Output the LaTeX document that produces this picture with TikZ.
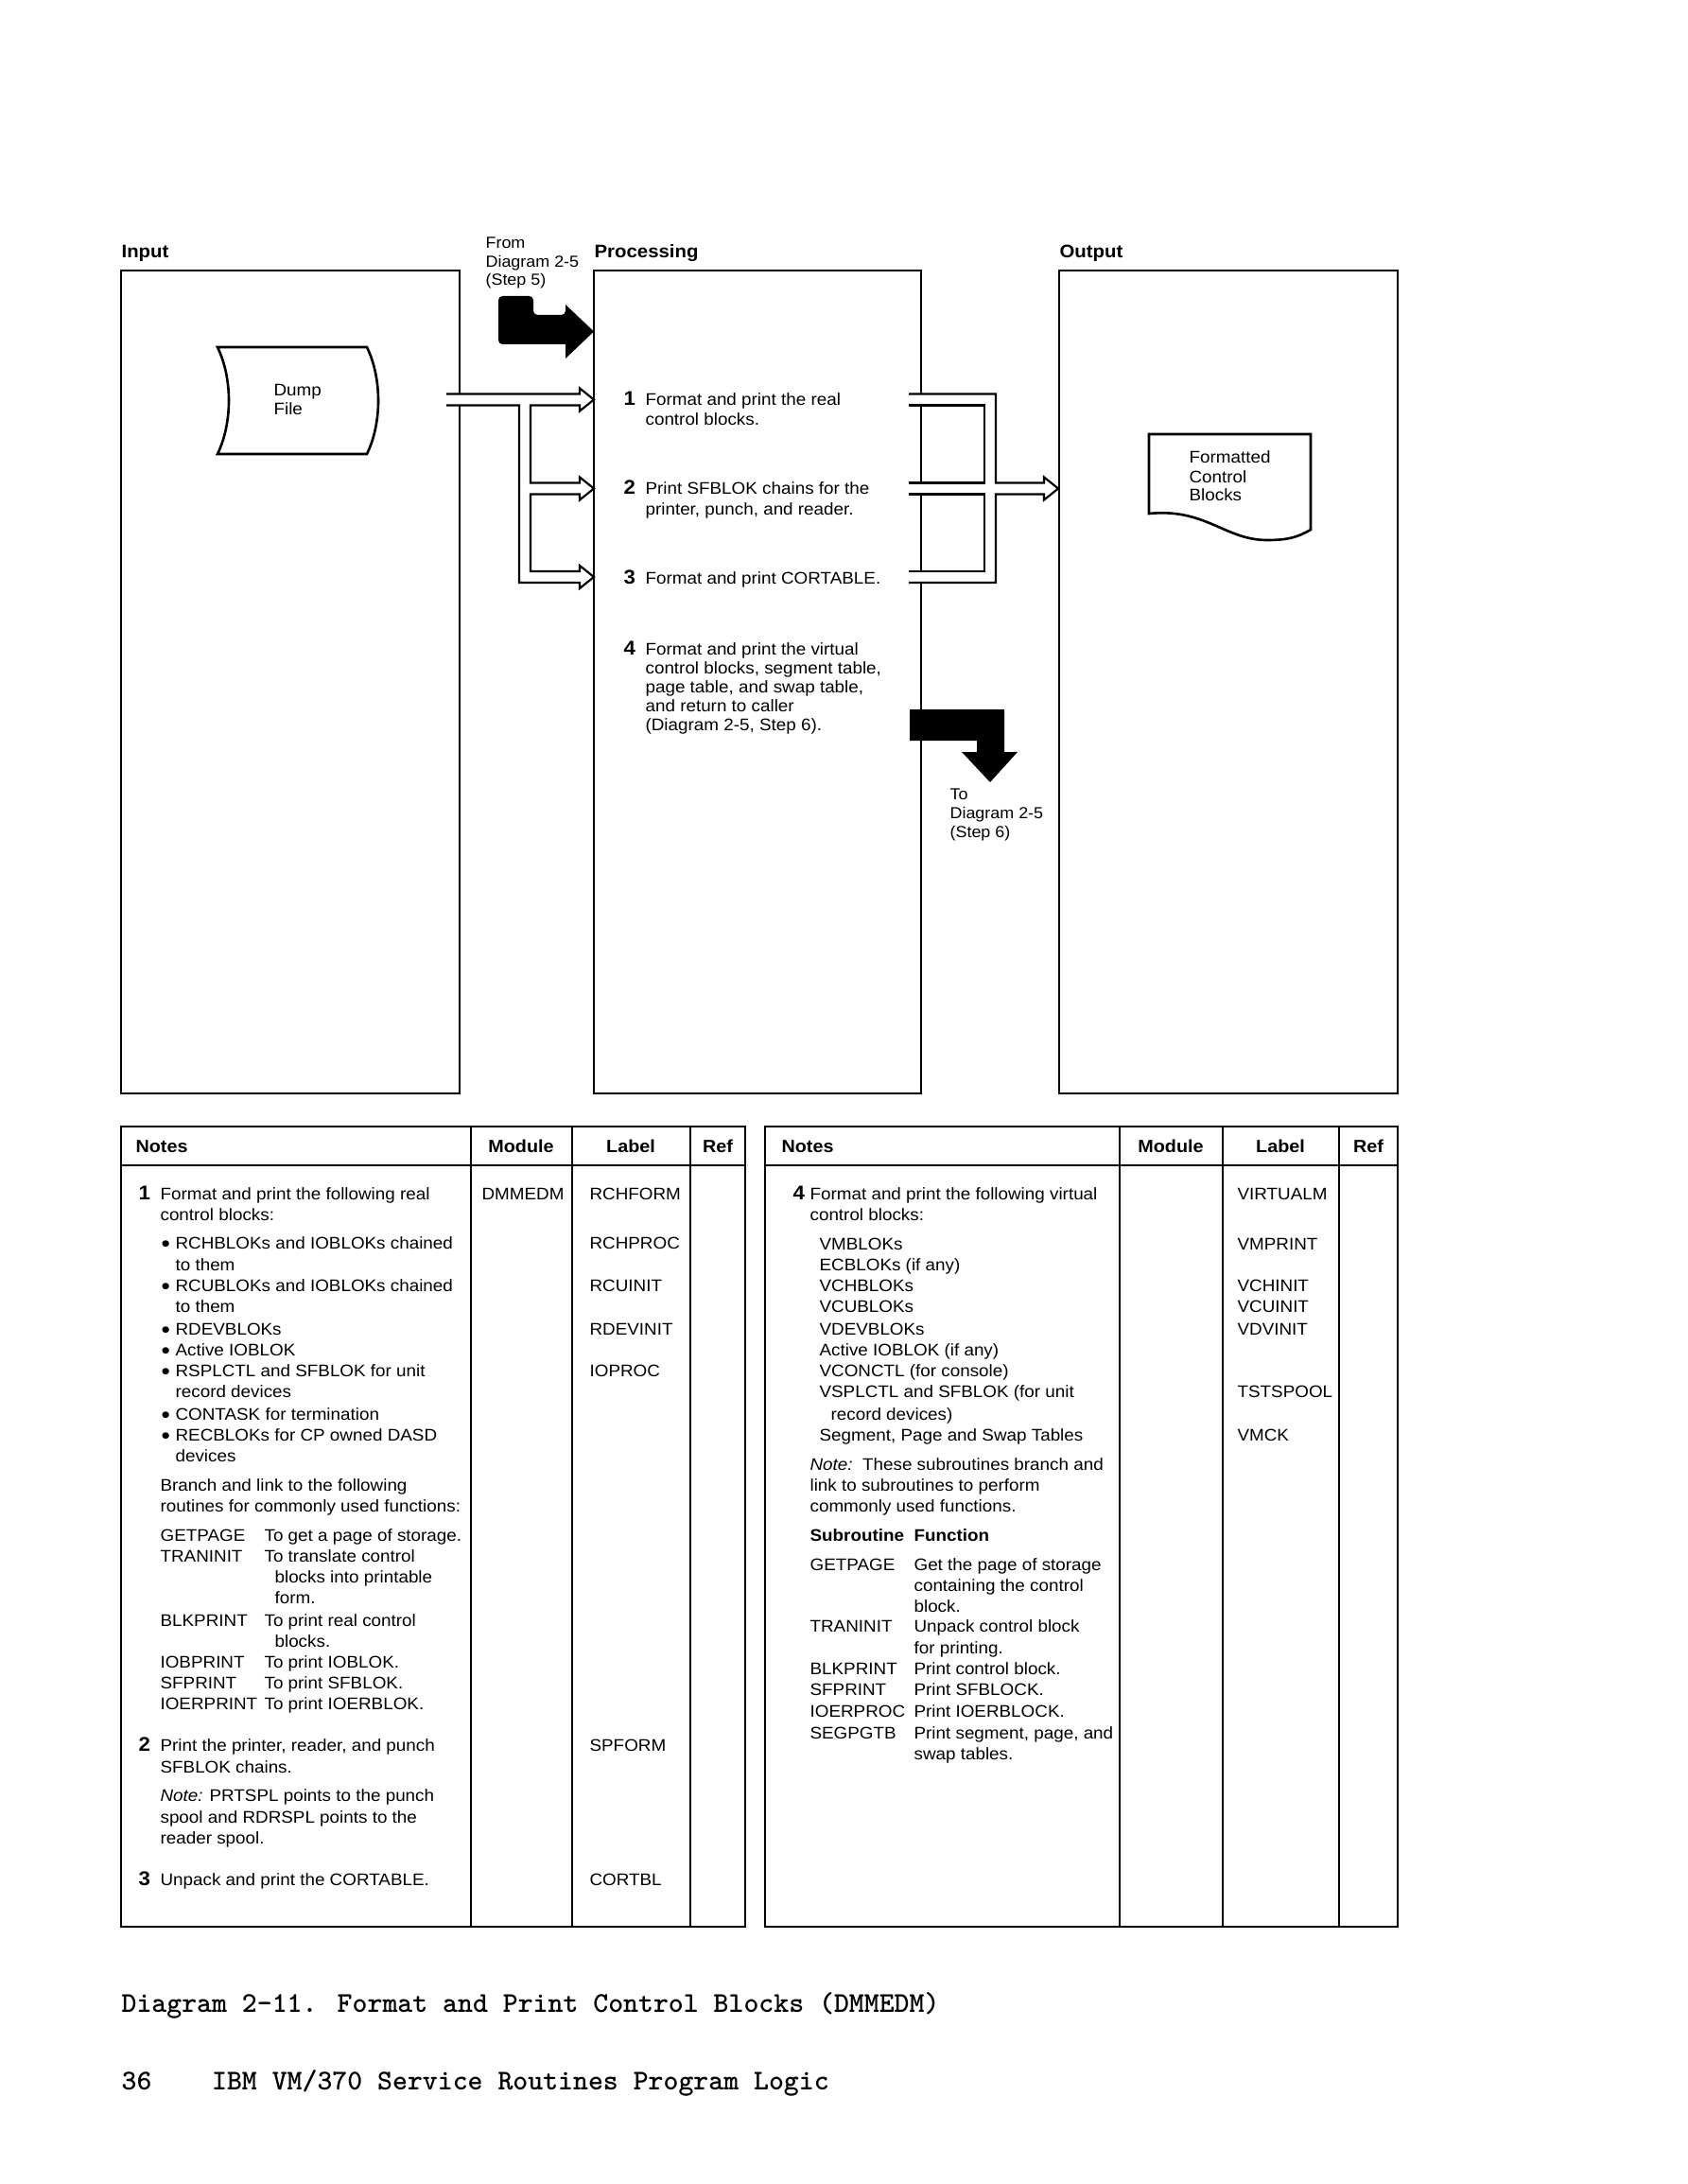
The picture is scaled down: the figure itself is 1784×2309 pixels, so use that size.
\documentclass[tikz,border=0pt]{standalone}
\usepackage{fontspec}
\setmainfont{Liberation Sans}[FakeStretch=1.06]
\newcommand\TL[4]{\node[txt] (#1) at (#2,#3) {#4};}
\newcommand\NM[4]{\node[num] (#1) at (#2,#3) {#4};}
\newcommand\BL[3]{\node[bul] (#1b) at (170,#2+3.5) {\textbullet};\node[txt] (#1) at (185,#2) {#3};}
\begin{document}
\begin{tikzpicture}[x=0.343pt,y=-0.343pt,
  box/.style={line width=0.9pt},
  pipe/.style={line width=0.75pt, line join=miter},
  txt/.style={inner sep=0pt, anchor=base west, font=\fontsize{6.1}{7}\selectfont},
  bul/.style={inner sep=0pt, anchor=base west, font=\fontsize{8.6}{8}\selectfont},
  smalltxt/.style={inner sep=0pt, anchor=base west, font=\fontsize{5.8}{7}\selectfont},
  num/.style={inner sep=0pt, anchor=base west, font=\fontsize{7.2}{8}\selectfont\bfseries},
  hdr/.style={inner sep=0pt, anchor=base, font=\fontsize{6.4}{8}\selectfont\bfseries},
  ttl/.style={inner sep=0pt, anchor=base west, font=\fontsize{6.6}{8}\selectfont\bfseries},
  captxt/.style={inner sep=0pt, anchor=base west, font=\fontsize{10.4}{12}\selectfont\ttfamily\bfseries}]
\useasboundingbox (0,0) rectangle (1784,2309);
\fill[white] (0,0) rectangle (1784,2309);

% ---------- column titles ----------
\node[ttl] (tin) at (128,273) {Input};
\node[ttl] (tproc) at (628,273) {Processing};
\node[ttl] (tout) at (1120,273) {Output};
\node[smalltxt] (from1) at (513,263) {From};
\node[smalltxt] (from2) at (513,283) {Diagram 2-5};
\node[smalltxt] (from3) at (513,302) {(Step 5)};

% ---------- three boxes ----------
\draw[box] (128,286) rectangle (486,1156);
\draw[box] (628,286) rectangle (974,1156);
\draw[box] (1120,286) rectangle (1478,1156);
\coordinate (inbox) at (307,721);
\coordinate (procbox) at (801,721);
\coordinate (outbox) at (1299,721);

% ---------- dump file ----------
\draw[box] (230,367) -- (388,367) .. controls (404,400) and (404,447) .. (388,480)
  -- (230,480) .. controls (246,447) and (246,400) .. (230,367) -- cycle;
\TL{dump1}{289}{419}{Dump}
\TL{dump2}{289}{439}{File}

% ---------- formatted control blocks (document) ----------
\draw[box] (1215,543) -- (1215,459) -- (1386,459) -- (1386,560)
  .. controls (1372,568) and (1362,571) .. (1340,571)
  .. controls (1295,571) and (1275,537) .. (1215,543) -- cycle;
\TL{fcb1}{1257}{489}{Formatted}
\TL{fcb2}{1257}{510}{Control}
\TL{fcb3}{1257}{530}{Blocks}

% ---------- left pipes (input -> steps 1,2,3) ----------
\fill[white] (472,416.5) -- (613,416.5) -- (613,410.5) -- (628,422.5) -- (613,434.5) -- (613,428.5)
  -- (561,428.5) -- (561,510.5) -- (613,510.5) -- (613,504.5) -- (628,516.5) -- (613,528.5) -- (613,522.5)
  -- (561,522.5) -- (561,604) -- (613,604) -- (613,598) -- (628,610) -- (613,622) -- (613,616)
  -- (549,616) -- (549,428.5) -- (472,428.5) -- cycle;
\draw[pipe] (472,416.5) -- (613,416.5) -- (613,410.5) -- (628,422.5) -- (613,434.5) -- (613,428.5)
  -- (561,428.5) -- (561,510.5) -- (613,510.5) -- (613,504.5) -- (628,516.5) -- (613,528.5) -- (613,522.5)
  -- (561,522.5) -- (561,604) -- (613,604) -- (613,598) -- (628,610) -- (613,622) -- (613,616)
  -- (549,616) -- (549,428.5) -- (472,428.5);

% ---------- right pipes (steps 1,2,3 -> output) ----------
\fill[white] (961,416.5) -- (1053,416.5) -- (1053,510.5) -- (1104,510.5) -- (1104,504.5) -- (1119,516.5)
  -- (1104,528.5) -- (1104,522.5) -- (1053,522.5) -- (1053,616) -- (961,616) -- (961,604) -- (1041,604)
  -- (1041,522.5) -- (961,522.5) -- (961,510.5) -- (1041,510.5) -- (1041,428.5) -- (961,428.5) -- cycle;
\draw[pipe] (961,416.5) -- (1053,416.5) -- (1053,510.5) -- (1104,510.5) -- (1104,504.5) -- (1119,516.5)
  -- (1104,528.5) -- (1104,522.5) -- (1053,522.5) -- (1053,616) -- (961,616);
\draw[pipe] (961,428.5) -- (1041,428.5) -- (1041,510.5) -- (961,510.5);
\draw[pipe] (961,522.5) -- (1041,522.5) -- (1041,604) -- (961,604);

% ---------- black arrows ----------
\fill[rounded corners=1.5pt] (527,313) -- (564,313) -- (564,333) -- (598,333) [sharp corners] -- (598,322) -- (628,350.5) -- (598,379)
  -- (598,364) [rounded corners=1.5pt] -- (527,364) -- cycle;
\fill (962,750) -- (1062,750) -- (1062,795) -- (1076,795) -- (1047,827) -- (1017,795)
  -- (1033,795) -- (1033,783) -- (962,783) -- cycle;
\node[smalltxt] (to1) at (1004,845) {To};
\node[smalltxt] (to2) at (1004,865) {Diagram 2-5};
\node[smalltxt] (to3) at (1004,885) {(Step 6)};

% ---------- processing steps ----------
\NM{s1n}{659}{429}{1}
\TL{s1a}{682}{429}{Format and print the real}
\TL{s1b}{682}{450}{control blocks.}
\NM{s2n}{659}{523}{2}
\TL{s2a}{682}{523}{Print SFBLOK chains for the}
\TL{s2b}{682}{545}{printer, punch, and reader.}
\NM{s3n}{659}{617}{3}
\TL{s3a}{682}{617}{Format and print CORTABLE.}
\NM{s4n}{659}{692}{4}
\TL{s4a}{682}{692}{Format and print the virtual}
\TL{s4b}{682}{712}{control blocks, segment table,}
\TL{s4c}{682}{732}{page table, and swap table,}
\TL{s4d}{682}{752}{and return to caller}
\TL{s4e}{682}{772}{(Diagram 2-5, Step 6).}

% ---------- left table ----------
\draw[box] (128,1191) rectangle (788,2037);
\draw[box] (128,1232) -- (788,1232);
\draw[box] (498,1191) -- (498,2037);
\draw[box] (605,1191) -- (605,2037);
\draw[box] (730,1191) -- (730,2037);
\node[hdr, anchor=base west] (lh1) at (143,1218) {Notes};
\node[hdr] (lh2) at (551,1218) {Module};
\node[hdr] (lh3) at (667,1218) {Label};
\node[hdr] (lh4) at (759,1218) {Ref};

\NM{n1}{146}{1268}{1}
\TL{l01}{169}{1268}{Format and print the following real}
\TL{l02}{169}{1290}{control blocks:}
\BL{l03}{1320}{RCHBLOKs and IOBLOKs chained}
\TL{l04}{185}{1343}{to them}
\BL{l05}{1365}{RCUBLOKs and IOBLOKs chained}
\TL{l06}{185}{1387}{to them}
\BL{l07}{1411}{RDEVBLOKs}
\BL{l08}{1433}{Active IOBLOK}
\BL{l09}{1455}{RSPLCTL and SFBLOK for unit}
\TL{l10}{185}{1477}{record devices}
\BL{l11}{1501}{CONTASK for termination}
\BL{l12}{1523}{RECBLOKs for CP owned DASD}
\TL{l13}{185}{1545}{devices}
\TL{l14}{169}{1576}{Branch and link to the following}
\TL{l15}{169}{1598}{routines for commonly used functions:}
\TL{l16}{169}{1629}{GETPAGE}\TL{l16d}{279}{1629}{To get a page of storage.}
\TL{l17}{169}{1651}{TRANINIT}\TL{l17d}{279}{1651}{To translate control}
\TL{l18}{290}{1673}{blocks into printable}
\TL{l19}{290}{1695}{form.}
\TL{l20}{169}{1719}{BLKPRINT}\TL{l20d}{279}{1719}{To print real control}
\TL{l21}{290}{1741}{blocks.}
\TL{l22}{169}{1763}{IOBPRINT}\TL{l22d}{279}{1763}{To print IOBLOK.}
\TL{l23}{169}{1785}{SFPRINT}\TL{l23d}{279}{1785}{To print SFBLOK.}
\TL{l24}{169}{1807}{IOERPRINT}\TL{l24d}{279}{1807}{To print IOERBLOK.}
\NM{n2}{146}{1851}{2}
\TL{l25}{169}{1851}{Print the printer, reader, and punch}
\TL{l26}{169}{1874}{SFBLOK chains.}
\TL{l27}{169}{1904}{\textit{Note:} PRTSPL points to the punch}
\TL{l28}{169}{1927}{spool and RDRSPL points to the}
\TL{l29}{169}{1949}{reader spool.}
\NM{n3}{146}{1993}{3}
\TL{l30}{169}{1993}{Unpack and print the CORTABLE.}

\TL{mod1}{509}{1268}{DMMEDM}
\TL{lab1}{623}{1268}{RCHFORM}
\TL{lab2}{623}{1320}{RCHPROC}
\TL{lab3}{623}{1365}{RCUINIT}
\TL{lab4}{623}{1411}{RDEVINIT}
\TL{lab5}{623}{1455}{IOPROC}
\TL{lab6}{623}{1851}{SPFORM}
\TL{lab7}{623}{1993}{CORTBL}

% ---------- right table ----------
\draw[box] (809,1191) rectangle (1478,2037);
\draw[box] (809,1232) -- (1478,1232);
\draw[box] (1184,1191) -- (1184,2037);
\draw[box] (1293,1191) -- (1293,2037);
\draw[box] (1416,1191) -- (1416,2037);
\node[hdr, anchor=base west] (rh1) at (826,1218) {Notes};
\node[hdr] (rh2) at (1238,1218) {Module};
\node[hdr] (rh3) at (1354,1218) {Label};
\node[hdr] (rh4) at (1447,1218) {Ref};

\NM{n4}{838}{1268}{4}
\TL{r01}{856}{1268}{Format and print the following virtual}
\TL{r02}{856}{1290}{control blocks:}
\TL{r03}{866}{1321}{VMBLOKs}
\TL{r04}{866}{1343}{ECBLOKs (if any)}
\TL{r05}{866}{1365}{VCHBLOKs}
\TL{r06}{866}{1387}{VCUBLOKs}
\TL{r07}{866}{1411}{VDEVBLOKs}
\TL{r08}{866}{1433}{Active IOBLOK (if any)}
\TL{r09}{866}{1455}{VCONCTL (for console)}
\TL{r10}{866}{1477}{VSPLCTL and SFBLOK (for unit}
\TL{r11}{878}{1501}{record devices)}
\TL{r12}{866}{1523}{Segment, Page and Swap Tables}
\TL{r13}{856}{1554}{\textit{Note:}\ \ These subroutines branch and}
\TL{r14}{856}{1576}{link to subroutines to perform}
\TL{r15}{856}{1598}{commonly used functions.}
\TL{r16}{856}{1629}{\bfseries Subroutine}\TL{r16d}{966}{1629}{\bfseries Function}
\TL{r17}{856}{1660}{GETPAGE}\TL{r17d}{966}{1660}{Get the page of storage}
\TL{r18}{966}{1682}{containing the control}
\TL{r19}{966}{1704}{block.}
\TL{r20}{856}{1725}{TRANINIT}\TL{r20d}{966}{1725}{Unpack control block}
\TL{r21}{966}{1748}{for printing.}
\TL{r22}{856}{1770}{BLKPRINT}\TL{r22d}{966}{1770}{Print control block.}
\TL{r23}{856}{1792}{SFPRINT}\TL{r23d}{966}{1792}{Print SFBLOCK.}
\TL{r24}{856}{1815}{IOERPROC}\TL{r24d}{966}{1815}{Print IOERBLOCK.}
\TL{r25}{856}{1838}{SEGPGTB}\TL{r25d}{966}{1838}{Print segment, page, and}
\TL{r26}{966}{1860}{swap tables.}

\TL{rlab1}{1308}{1268}{VIRTUALM}
\TL{rlab2}{1308}{1321}{VMPRINT}
\TL{rlab3}{1308}{1365}{VCHINIT}
\TL{rlab4}{1308}{1387}{VCUINIT}
\TL{rlab5}{1308}{1411}{VDVINIT}
\TL{rlab6}{1308}{1477}{TSTSPOOL}
\TL{rlab7}{1308}{1523}{VMCK}

% ---------- caption ----------
\node[captxt] (caption) at (128,2127) {Diagram 2-11. Format and Print Control Blocks (DMMEDM)};
\node[captxt] (footer) at (128,2209) {36\ \ \ \ IBM VM/370 Service Routines Program Logic};
\end{tikzpicture}
\end{document}
